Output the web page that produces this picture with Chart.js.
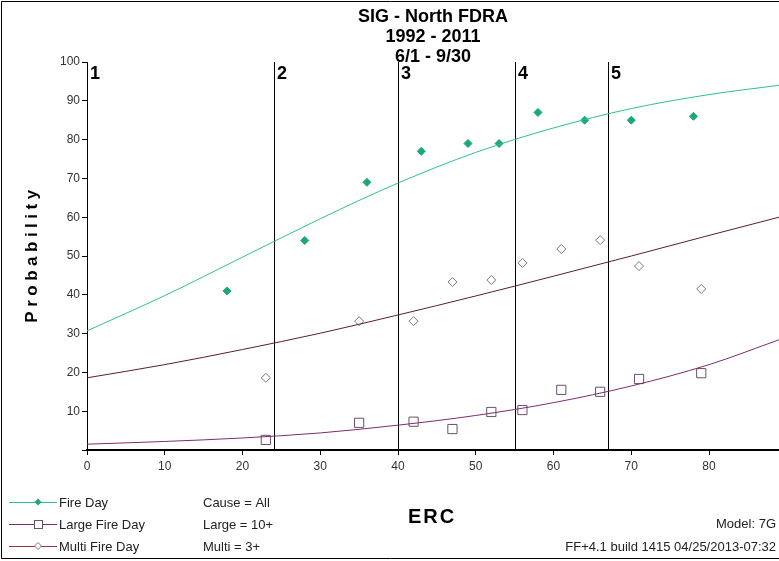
<!DOCTYPE html>
<html>
<head>
<meta charset="utf-8">
<script src="https://cdn.jsdelivr.net/npm/chart.js@4"></script>
<style>
  html, body { margin: 0; padding: 0; background: #fff; }
</style>
</head>
<body>
<canvas id="ercChart" width="779" height="561"></canvas>
<script>
// observed points
const fireDayErc = [18, 28, 36, 43, 49, 53, 58, 64, 70, 78];
const fireDayProb = [41, 54, 69, 77, 79, 79, 87, 85, 85, 86];
const largeMultiErc = [23, 35, 42, 47, 52, 56, 61, 66, 71, 79];
const largeFireProb = [2.6, 7.0, 7.3, 5.4, 9.8, 10.3, 15.5, 15, 18.3, 19.8];
const multiFireProb = [18.6, 33.2, 33.2, 43.3, 43.8, 48.2, 51.8, 54.1, 47.4, 41.5];

// fitted curves
const curveErc = [0, 10, 20, 30, 40, 50, 60, 70, 80, 89];
const fireDayCurve = [30.7, 39.8, 49.7, 59.6, 68.8, 76.7, 83.0, 88.0, 91.6, 94.0];
const largeFireCurve = [1.5, 2.2, 3.1, 4.4, 6.4, 8.9, 12.2, 16.5, 22.0, 28.4];
const multiFireCurve = [18.6, 22.0, 25.9, 30.1, 34.8, 39.7, 44.8, 50.0, 55.3, 60.0];

// breakpoints and ticks
const zoneBreaks = [0, 24, 40, 55, 67];
const zoneLabels = ['1', '2', '3', '4', '5'];
const xTicks = [0, 10, 20, 30, 40, 50, 60, 70, 80];
const yTicks = [0, 10, 20, 30, 40, 50, 60, 70, 80, 90, 100];

const titleLines = ['SIG - North FDRA', '1992 - 2011', '6/1 - 9/30'];

const GREEN = '#2fc08f';
const GREEN_PT = '#1aa878';
const PURPLE = '#7d2c72';
const MULTI = '#5a1e30';
const FONT = '"Liberation Sans", Arial, sans-serif';

const toXY = (xs, ys) => xs.map((x, i) => ({ x: x, y: ys[i] }));

function drawLegendRow(ctx, y, color, style, label, extra) {
    ctx.strokeStyle = color;
    ctx.lineWidth = 1;
    ctx.beginPath();
    ctx.moveTo(9, y + 0.5);
    ctx.lineTo(57, y + 0.5);
    ctx.stroke();
    if (style === 'diamondFill') {
        ctx.fillStyle = GREEN_PT;
        ctx.beginPath();
        ctx.moveTo(38, y - 3.5); ctx.lineTo(41.5, y); ctx.lineTo(38, y + 3.5); ctx.lineTo(34.5, y);
        ctx.closePath();
        ctx.fill();
    } else if (style === 'square') {
        ctx.fillStyle = '#fff';
        ctx.strokeStyle = '#6b4f6b';
        ctx.fillRect(34.5, y - 3.5, 8, 8);
        ctx.strokeRect(34.5, y - 3.5, 8, 8);
    } else {
        ctx.fillStyle = '#fff';
        ctx.strokeStyle = '#777';
        ctx.beginPath();
        ctx.moveTo(38, y - 3.5); ctx.lineTo(41.5, y); ctx.lineTo(38, y + 3.5); ctx.lineTo(34.5, y);
        ctx.closePath();
        ctx.fill();
        ctx.stroke();
    }
    ctx.fillStyle = '#222';
    ctx.font = '13px ' + FONT;
    ctx.textAlign = 'left';
    ctx.textBaseline = 'middle';
    ctx.fillText(label, 59, y + 1);
    ctx.fillText(extra, 203, y + 1);
}

const overlay = {
    id: 'overlay',
    beforeDatasetsDraw(chart) {
        const ctx = chart.ctx;
        const xs = chart.scales.x;
        const area = chart.chartArea;
        ctx.save();
        ctx.strokeStyle = '#000';
        ctx.lineWidth = 1;
        zoneBreaks.forEach(v => {
            const px = Math.round(xs.getPixelForValue(v)) + 0.5;
            ctx.beginPath();
            ctx.moveTo(px, area.top);
            ctx.lineTo(px, area.bottom);
            ctx.stroke();
        });
        ctx.restore();
    },
    afterDraw(chart) {
        const ctx = chart.ctx;
        const xs = chart.scales.x;
        const area = chart.chartArea;
        ctx.save();

        // zone numbers
        ctx.fillStyle = '#000';
        ctx.font = 'bold 18px ' + FONT;
        ctx.textAlign = 'left';
        ctx.textBaseline = 'top';
        zoneBreaks.forEach((v, i) => {
            const px = Math.round(xs.getPixelForValue(v));
            ctx.fillText(zoneLabels[i], px + 3, area.top + 3);
        });

        // title
        ctx.font = 'bold 18px ' + FONT;
        ctx.textAlign = 'center';
        ctx.textBaseline = 'middle';
        const cx = (area.left + area.right) / 2;
        titleLines.forEach((t, i) => ctx.fillText(t, cx, 17 + i * 20));

        // axis titles
        ctx.save();
        ctx.translate(32, (area.top + area.bottom) / 2);
        ctx.rotate(-Math.PI / 2);
        ctx.font = 'bold 17px ' + FONT;
        ctx.letterSpacing = '4.5px';
        ctx.fillText('Probability', 2, 0);
        ctx.restore();

        ctx.save();
        ctx.font = 'bold 20px ' + FONT;
        ctx.letterSpacing = '2px';
        ctx.fillText('ERC', 432, 517);
        ctx.restore();

        // legend block
        drawLegendRow(ctx, 502, GREEN, 'diamondFill', 'Fire Day', 'Cause = All');
        drawLegendRow(ctx, 524, PURPLE, 'square', 'Large Fire Day', 'Large = 10+');
        drawLegendRow(ctx, 546, '#993344', 'diamond', 'Multi Fire Day', 'Multi = 3+');

        ctx.fillStyle = '#222';
        ctx.font = '13px ' + FONT;
        ctx.textAlign = 'right';
        ctx.textBaseline = 'middle';
        ctx.fillText('Model: 7G', 776, 524);
        ctx.fillText('FF+4.1 build 1415 04/25/2013-07:32', 776, 547);

        // outer frame
        ctx.strokeStyle = '#000';
        ctx.lineWidth = 1;
        ctx.beginPath();
        ctx.moveTo(1.5, 558.5);
        ctx.lineTo(1.5, 1.5);
        ctx.lineTo(779, 1.5);
        ctx.moveTo(1.5, 558.5);
        ctx.lineTo(779, 558.5);
        ctx.stroke();
        ctx.restore();
    }
};

const ctx = document.getElementById('ercChart').getContext('2d');
new Chart(ctx, {
    type: 'scatter',
    data: {
        datasets: [
            {
                label: 'Fire Day fit',
                type: 'line',
                data: toXY(curveErc, fireDayCurve),
                borderColor: GREEN,
                borderWidth: 1,
                pointRadius: 0,
                cubicInterpolationMode: 'monotone',
                fill: false
            },
            {
                label: 'Multi Fire Day fit',
                type: 'line',
                data: toXY(curveErc, multiFireCurve),
                borderColor: MULTI,
                borderWidth: 1,
                pointRadius: 0,
                cubicInterpolationMode: 'monotone',
                fill: false
            },
            {
                label: 'Large Fire Day fit',
                type: 'line',
                data: toXY(curveErc, largeFireCurve),
                borderColor: PURPLE,
                borderWidth: 1,
                pointRadius: 0,
                cubicInterpolationMode: 'monotone',
                fill: false
            },
            {
                label: 'Fire Day',
                data: toXY(fireDayErc, fireDayProb),
                pointStyle: 'rectRot',
                pointRadius: 4,
                backgroundColor: GREEN_PT,
                borderColor: GREEN_PT,
                borderWidth: 1
            },
            {
                label: 'Large Fire Day',
                data: toXY(largeMultiErc, largeFireProb),
                pointStyle: 'rect',
                pointRadius: 6.5,
                backgroundColor: 'rgba(255,255,255,0)',
                borderColor: '#6b4f6b',
                borderWidth: 1
            },
            {
                label: 'Multi Fire Day',
                data: toXY(largeMultiErc, multiFireProb),
                pointStyle: 'rectRot',
                pointRadius: 4.5,
                backgroundColor: '#fff',
                borderColor: '#777',
                borderWidth: 1
            }
        ]
    },
    options: {
        responsive: false,
        animation: false,
        events: [],
        layout: { autoPadding: false, padding: { top: 62, left: 0, right: 0, bottom: 0 } },
        plugins: {
            legend: { display: false },
            tooltip: { enabled: false }
        },
        scales: {
            x: {
                type: 'linear',
                min: 0,
                max: 89,
                afterBuildTicks: scale => { scale.ticks = xTicks.map(v => ({ value: v })); },
                afterFit: scale => { scale.height = 111; },
                grid: { drawOnChartArea: false, drawTicks: true, tickLength: 5, color: '#000' },
                border: { color: '#000', width: 2 },
                ticks: { color: '#333', font: { family: FONT, size: 12 }, padding: 4, maxRotation: 0 }
            },
            y: {
                min: 0,
                max: 100,
                afterBuildTicks: scale => { scale.ticks = yTicks.map(v => ({ value: v })); },
                afterFit: scale => { scale.width = 87; },
                grid: { drawOnChartArea: false, drawTicks: true, tickLength: 5, color: '#000' },
                border: { color: '#000', width: 1 },
                ticks: {
                    color: '#333',
                    font: { family: FONT, size: 12 },
                    padding: 2,
                    callback: v => (v === 0 ? '' : v)
                }
            }
        }
    },
    plugins: [overlay]
});
</script>
</body>
</html>
